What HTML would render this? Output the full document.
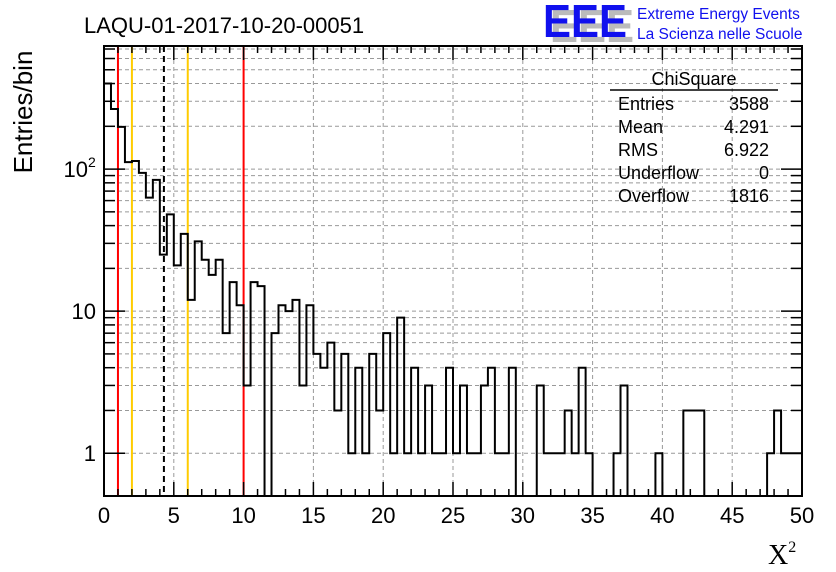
<!DOCTYPE html>
<html><head><meta charset="utf-8"><style>
body{margin:0;background:#fff;width:836px;height:572px;overflow:hidden}
svg{display:block;font-family:"Liberation Sans",sans-serif}
</style></head><body>
<svg id="c" width="836" height="572">
<text x="84" y="33" font-size="22">LAQU-01-2017-10-20-00051</text>
<g>
<text x="550" y="42" font-size="46" font-weight="bold" fill="#bbb" textLength="84" lengthAdjust="spacingAndGlyphs">EEE</text>
<text x="543" y="37" font-size="46" font-weight="bold" fill="#1010ee" textLength="84" lengthAdjust="spacingAndGlyphs">EEE</text>
<text x="637" y="19" font-size="15.5" fill="#1010ee">Extreme Energy Events</text>
<text x="637" y="39" font-size="15.5" fill="#1010ee">La Scienza nelle Scuole</text>
</g>
<g id="grid"></g>
<g id="marks"></g>
<g id="axes"></g>
<g font-size="18">
<text x="694" y="85" text-anchor="middle">ChiSquare</text>
<line x1="610" y1="90" x2="778" y2="90" stroke="#000" stroke-width="1.5"/>
<text x="618" y="110">Entries</text><text x="769" y="110" text-anchor="end">3588</text>
<text x="618" y="133">Mean</text><text x="769" y="133" text-anchor="end">4.291</text>
<text x="618" y="156">RMS</text><text x="769" y="156" text-anchor="end">6.922</text>
<text x="618" y="179">Underflow</text><text x="769" y="179" text-anchor="end">0</text>
<text x="618" y="202">Overflow</text><text x="769" y="202" text-anchor="end">1816</text>
</g>
<text transform="translate(32,112) rotate(-90)" font-size="26" text-anchor="middle">Entries/bin</text>
<text x="768" y="564" font-size="28" font-family="Liberation Serif,serif">X<tspan font-size="16" dy="-12">2</tspan></text>
</svg>
<script>
const counts=[400,265,198,112,114,94,63,84,25,48,21,35,12,31,23,18,23,7,16,11,3,16,15,0,7,11,10,12,3,11,5,4,6,2,5,1,4,1,5,2,7,1,9,1,4,1,3,1,1,4,1,3,1,1,3,4,1,1,4,0,0,0,3,1,1,1,2,1,4,1,0,0,0,1,3,0,0,0,0,1,0,0,0,2,2,2,0,0,0,0,0,0,0,0,0,1,2,1,1,1];
const binWidth=0.5;
const xTicks=[0,5,10,15,20,25,30,35,40,45,50];
const yTickLabels=[[1,"1",""],[10,"10",""],[100,"10","2"]];
const redLines=[1,10];
const orangeLines=[2,6];
const meanLine=[4.291];
const X0=104,X1=802,Y0=496,Y1=46,XMIN=0,XMAX=50,YMIN=0.5,YMAX=735;
const xs=v=>X0+(v-XMIN)/(XMAX-XMIN)*(X1-X0);
const ys=v=>Y0-(Math.log10(v)-Math.log10(YMIN))/(Math.log10(YMAX)-Math.log10(YMIN))*(Y0-Y1);
const NS="http://www.w3.org/2000/svg";
function mk(p,t,a){const e=document.createElementNS(NS,t);for(const k in a)e.setAttribute(k,a[k]);p.appendChild(e);return e;}
const grid=document.getElementById('grid'),marks=document.getElementById('marks'),axes=document.getElementById('axes');
for(const t of xTicks.slice(1,-1)){const l=mk(grid,'line',{x1:xs(t),x2:xs(t),y1:Y1,y2:Y0,stroke:'#999','stroke-dasharray':'4,3'});

}
const ylog=[];for(let d=1;d<=100;d*=10)for(let m=1;m<10;m++){const v=m*d;if(v>YMIN&&v<YMAX)ylog.push(v);}
for(const v of ylog){const l=mk(grid,'line',{x1:X0,x2:X1,y1:ys(v),y2:ys(v),stroke:'#999','stroke-dasharray':'4,3'});

}
for(const v of redLines){const l=mk(marks,'line',{x1:xs(v),x2:xs(v),y1:Y1,y2:Y0,stroke:'#f00','stroke-width':2});

}
for(const v of orangeLines){const l=mk(marks,'line',{x1:xs(v),x2:xs(v),y1:Y1,y2:Y0,stroke:'#fc0','stroke-width':2});

}
for(const v of meanLine){const l=mk(marks,'line',{x1:xs(v),x2:xs(v),y1:Y1,y2:Y0,stroke:'#000','stroke-width':2,'stroke-dasharray':'6,4'});

}
const yv=c=>c>0?ys(c):Y0;
let d=`M${xs(0)},${yv(counts[0])}`;
counts.forEach((c,i)=>{const a=xs(i*binWidth),b=xs((i+1)*binWidth);if(i>0)d+=`L${a},${yv(c)}`;d+=`L${b},${yv(c)}`;});
const h=mk(marks,'path',{d:d,fill:'none',stroke:'#000','stroke-width':2});


const f=mk(axes,'rect',{x:X0,y:Y1,width:X1-X0,height:Y0-Y1,fill:'none',stroke:'#000','stroke-width':2});


for(let v=0;v<=50;v+=1){const maj=v%5===0;const L=maj?14:7;
mk(axes,'line',{x1:xs(v),x2:xs(v),y1:Y0,y2:Y0-L,stroke:'#000','stroke-width':1.5});
mk(axes,'line',{x1:xs(v),x2:xs(v),y1:Y1,y2:Y1+L,stroke:'#000','stroke-width':1.5});}
for(const t of xTicks){const e=mk(axes,'text',{x:xs(t),y:523,'font-size':22,'text-anchor':'middle'});e.textContent=t;

}
for(const v of ylog){const maj=[1,10,100].includes(v);const L=maj?21:11;
mk(axes,'line',{x1:X0,x2:X0+L,y1:ys(v),y2:ys(v),stroke:'#000','stroke-width':1.5});
mk(axes,'line',{x1:X1,x2:X1-L,y1:ys(v),y2:ys(v),stroke:'#000','stroke-width':1.5});}
for(const [v,s,sup] of yTickLabels){const e=mk(axes,'text',{x:sup?88:96,y:ys(v)+8,'font-size':22,'text-anchor':'end'});e.textContent=s;


if(sup){const t=mk(axes,'text',{x:88,y:ys(v)-2,'font-size':14});t.textContent=sup;

}}
</script>
</body></html>
